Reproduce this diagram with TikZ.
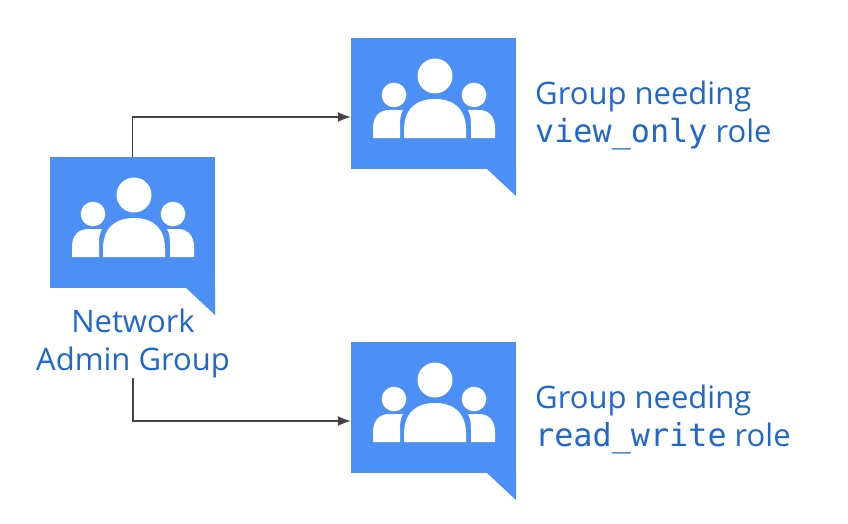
\documentclass[tikz,border=0pt]{standalone}
\usepackage{fontspec}
\setmainfont{Open Sans}
\setmonofont{DejaVu Sans Mono}
\usetikzlibrary{arrows.meta,calc}
\definecolor{bubbleblue}{HTML}{4C8FF5}
\definecolor{labelblue}{HTML}{1F67CF}
\definecolor{linegrey}{HTML}{444444}
\newcommand{\monolabel}[1]{{\fontsize{31.8}{38}\selectfont\ttfamily #1}}
\tikzset{
  x=1pt,y=-1pt,
  bubble/.style={rectangle,fill=bubbleblue,draw=none,inner sep=0pt,minimum width=165pt,minimum height=131pt},
  label text/.style={text=labelblue,font=\fontsize{31}{38}\selectfont,inner sep=0pt},
  link/.style={draw=linegrey,line width=1.2pt,-{Latex[length=13pt,width=10pt]}},
  group icon/.pic={
    % tail and icon, origin at the top-left of the bubble
    \fill[bubbleblue] (135,130) -- (165,158) -- (165,130) -- cycle;
    \fill[white] (84,38) circle[radius=17.5];
    \fill[white] (43,57) circle[radius=12.3];
    \fill[white] (123,57) circle[radius=12.3];
    \fill[white] (53,100) -- (53,92) .. controls (53,70) and (66,61) .. (84,61)
       .. controls (102,61) and (115,70) .. (115,92) -- (115,100) -- cycle;
    \fill[white] (22,100) -- (22,90) .. controls (22,79) and (28,72) .. (38,72)
       -- (52,72) .. controls (49,78) and (49,82) .. (49,88) -- (49,100) -- cycle;
    \fill[white] (144,100) -- (144,90) .. controls (144,79) and (138,72) .. (128,72)
       -- (117,72) .. controls (120,78) and (120,82) .. (120,88) -- (120,100) -- cycle;
  }
}
\begin{document}
\begin{tikzpicture}
\useasboundingbox (0,0) rectangle (848,524);
\node[bubble] (admin) at (132.5,222.5) {};
\pic at (50,157) {group icon};
\node[bubble] (view) at (433.5,103.5) {};
\pic at (351,38) {group icon};
\node[bubble] (rw) at (433.5,407.5) {};
\pic at (351,342) {group icon};
\node[label text,align=center,anchor=north] (adminlabel) at (133,309) {Network\\Admin Group};
\node[label text,align=left,anchor=west] (viewlabel) at (535,115) {Group needing\\\monolabel{view\_only} role};
\node[label text,align=left,anchor=west] (rwlabel) at (535,419) {Group needing\\\monolabel{read\_write} role};
\coordinate (viewin) at ($(view.west)+(0,13.5)$);
\coordinate (rwin) at ($(rw.west)+(0,13.5)$);
\draw[link] (admin.north) |- (viewin);
\draw[link] (adminlabel.south) |- (rwin);
\end{tikzpicture}
\end{document}
